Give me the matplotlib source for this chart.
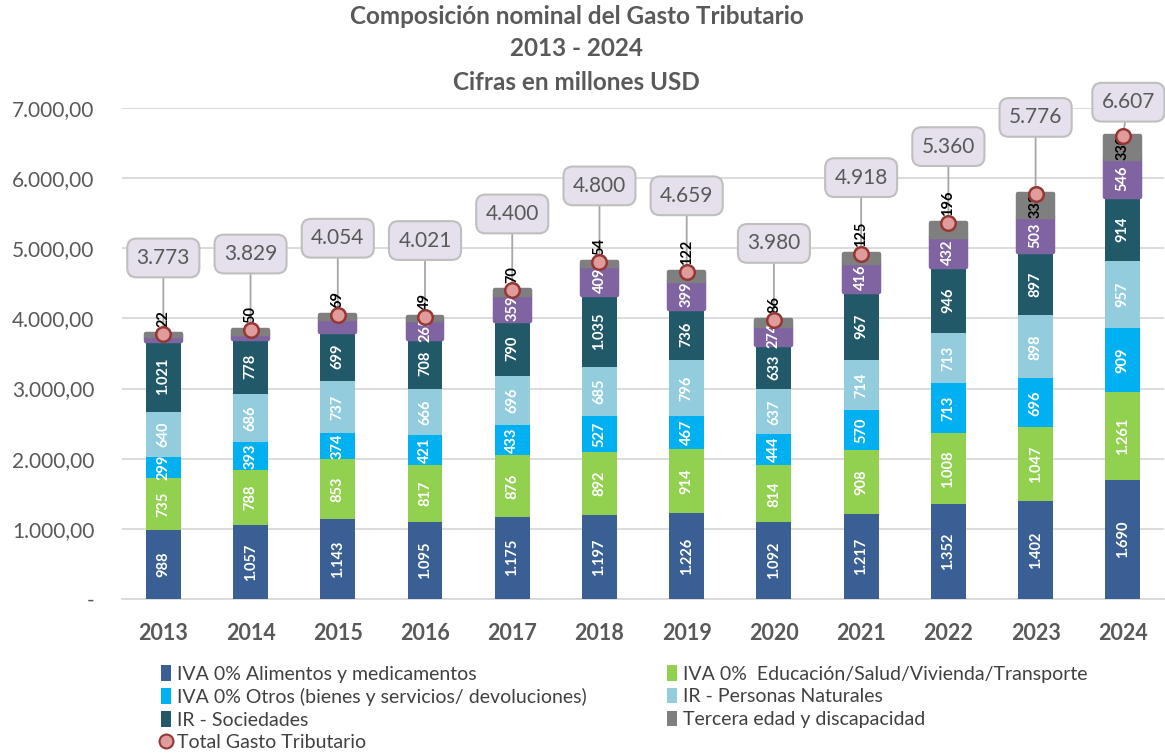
import matplotlib.pyplot as plt
import numpy as np
from matplotlib.patches import Patch
from matplotlib.lines import Line2D

plt.rcParams['font.family'] = ['Lato', 'DejaVu Sans']

years = ['2013', '2014', '2015', '2016', '2017', '2018',
         '2019', '2020', '2021', '2022', '2023', '2024']
iva_alimentos = [988, 1057, 1143, 1095, 1175, 1197, 1226, 1092, 1217, 1352, 1402, 1690]
iva_educacion = [735, 788, 853, 817, 876, 892, 914, 814, 908, 1008, 1047, 1261]
iva_otros = [299, 393, 374, 421, 433, 527, 467, 444, 570, 713, 696, 909]
ir_personas = [640, 686, 737, 666, 696, 685, 796, 637, 714, 713, 898, 957]
ir_sociedades = [1021, 778, 699, 708, 790, 1035, 736, 633, 967, 946, 897, 914]
otros_gastos = [68, 77, 179, 265, 359, 409, 399, 274, 416, 432, 503, 546]
tercera_edad = [22, 50, 69, 49, 70, 54, 122, 86, 125, 196, 333, 330]
total = [3773, 3829, 4054, 4021, 4400, 4800, 4659, 3980, 4918, 5360, 5776, 6607]


def fmt(v):
    return f"{v:,.0f}".replace(",", ".")


series = [
    (iva_alimentos, '#3A5F94', 'IVA 0% Alimentos y medicamentos'),
    (iva_educacion, '#92D050', 'IVA 0%  Educación/Salud/Vivienda/Transporte'),
    (iva_otros, '#00B0F0', 'IVA 0% Otros (bienes y servicios/ devoluciones)'),
    (ir_personas, '#93CDDD', 'IR - Personas Naturales'),
    (ir_sociedades, '#215968', 'IR - Sociedades'),
    (otros_gastos, '#8064A2', None),
    (tercera_edad, '#7F7F7F', 'Tercera edad y discapacidad'),
]

fig = plt.figure(figsize=(11.65, 7.55), dpi=100)
ax = fig.add_axes([0.105, 0.2066, 0.894, 0.6504])

x = np.arange(len(years))
width = 0.40
bottom = np.zeros(len(years))
handles = {}
for k, (vals, color, label) in enumerate(series):
    vals = np.array(vals, dtype=float)
    if k >= 5:
        # the two small top segments carry a rounded outline in the original
        ax.bar(x, vals, width, bottom=bottom, color=color, edgecolor=color,
               linewidth=3.2, joinstyle='round', zorder=3 + k * 0.01)
    else:
        ax.bar(x, vals, width, bottom=bottom, color=color, zorder=3)
    for i, v in enumerate(vals):
        if k < 5 or (k == 5 and v > 200):
            ax.text(x[i], bottom[i] + v / 2, fmt(v), rotation=90, ha='center', va='center',
                    color='white', fontsize=10.5, fontweight='bold', zorder=6)
        elif k == 6:
            if v > 300:
                ax.text(x[i], bottom[i] + v / 2, fmt(v), rotation=90, ha='center', va='center',
                        color='black', fontsize=10.5, fontweight='bold', zorder=6)
            else:
                ax.annotate(fmt(v), (x[i], bottom[i] + v), xytext=(0, 5), textcoords='offset points',
                            rotation=90, ha='center', va='bottom', color='black',
                            fontsize=10.5, fontweight='bold', zorder=6)
    if label:
        handles[label] = Patch(facecolor=color)
    bottom += vals

ax.scatter(x, total, s=110, color='#E09C9A', edgecolor='#953735', linewidth=1.8, zorder=7)

for i, t in enumerate(total):
    off = (4, 24) if i == len(total) - 1 else (0, 55)
    ax.annotate(fmt(t), (x[i], t), xytext=off, textcoords='offset points',
                ha='center', va='center', fontsize=15, color='#595959', zorder=4,
                bbox=dict(boxstyle='round,pad=0.45', fc='#E5E0EC', ec='#BFBFBF', lw=1.5),
                arrowprops=dict(arrowstyle='-', color='#A6A6A6', lw=1.3, shrinkA=0, shrinkB=0))

ax.set_xlim(-0.47, len(years) - 0.53)
ax.set_ylim(0, 7000)
ax.set_yticks(np.arange(0, 7001, 1000))
ax.set_yticklabels(['-'] + [f"{fmt(v)},00" for v in range(1000, 7001, 1000)])
ax.set_xticks(x)
ax.set_xticklabels(years, fontweight='bold')
ax.tick_params(axis='both', length=0, labelsize=15, colors='#595959')
ax.tick_params(axis='x', pad=17, labelsize=15.5)
ax.tick_params(axis='y', pad=20)
ax.grid(axis='y', color='#D9D9D9', lw=1.3, zorder=0)
for s in ['top', 'right', 'left']:
    ax.spines[s].set_visible(False)
ax.spines['bottom'].set_color('#D9D9D9')
ax.spines['bottom'].set_linewidth(1.3)

title_lines = ['Composición nominal del Gasto Tributario', '2013 - 2024', 'Cifras en millones USD']
for line, ypx in zip(title_lines, [17, 49, 82]):
    fig.text(0.495, 1 - ypx / 755, line, ha='center', va='center', fontsize=17.5,
             fontweight='bold', color='#595959')

total_handle = Line2D([], [], marker='o', ls='none', markersize=10,
                      markerfacecolor='#E09C9A', markeredgecolor='#953735', markeredgewidth=1.5)
order = ['IVA 0% Alimentos y medicamentos', 'IVA 0% Otros (bienes y servicios/ devoluciones)',
         'IR - Sociedades', 'Total Gasto Tributario',
         'IVA 0%  Educación/Salud/Vivienda/Transporte', 'IR - Personas Naturales',
         'Tercera edad y discapacidad']
handles['Total Gasto Tributario'] = total_handle
fig.legend([handles[k] for k in order], order, loc='upper left', bbox_to_anchor=(0.138, 0.119),
           ncol=2, frameon=False, fontsize=14, labelcolor='#404040', handlelength=0.55,
           handleheight=0.85, handletextpad=0.3, columnspacing=4.1, labelspacing=0.27,
           borderaxespad=0, borderpad=0)

fig.savefig('out.png', dpi=100)
